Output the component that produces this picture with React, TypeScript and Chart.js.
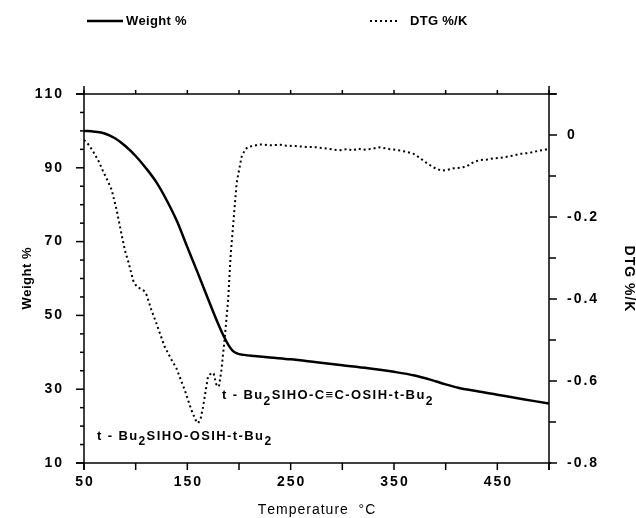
import React, { useEffect, useRef } from 'react';
import { Chart, registerables } from 'chart.js';

Chart.register(...registerables);

const FONT = "'Liberation Sans', Arial, Helvetica, sans-serif";

// ---- Data ----
const weightTemps = [50, 60, 70, 80, 90, 100, 110, 120, 130, 140, 150, 160, 170, 180, 185, 190, 194, 198, 205, 215, 230, 250, 275, 300, 325, 350, 370, 385, 400, 412, 425, 450, 475, 500];
const weightValues = [100, 99.8, 99.3, 98.0, 95.9, 93.2, 89.9, 86.1, 81.2, 75.5, 68.5, 61.6, 54.5, 47.6, 44.5, 41.9, 40.4, 39.7, 39.3, 39.0, 38.6, 38.1, 37.3, 36.5, 35.7, 34.7, 33.7, 32.6, 31.3, 30.4, 29.7, 28.5, 27.3, 26.1];

const dtgTemps = [50, 55, 59, 64, 68.7, 73, 76.8, 81.6, 86.5, 90, 93, 97.6, 101, 104, 108, 110.6, 115, 120, 128, 134, 139.4, 147.5, 154, 158, 160.5, 163, 165.2, 168, 170, 173.3, 175.5, 178, 180.6, 183, 186, 189.5, 192, 194.5, 197.7, 202.5, 206, 209, 215, 220, 230, 240, 246, 255, 265, 275, 285, 292, 298, 305, 310, 315, 320, 328, 336, 345, 356, 362, 369, 375, 382, 389, 396, 402, 408, 414, 420, 427, 433, 440, 446, 452, 459, 466, 472, 480, 491, 500];
const dtgValues = [-0.012, -0.025, -0.041, -0.063, -0.09, -0.112, -0.134, -0.183, -0.245, -0.285, -0.31, -0.355, -0.37, -0.374, -0.38, -0.39, -0.425, -0.459, -0.516, -0.545, -0.569, -0.622, -0.671, -0.695, -0.703, -0.69, -0.663, -0.62, -0.59, -0.58, -0.582, -0.608, -0.614, -0.573, -0.5, -0.402, -0.29, -0.215, -0.117, -0.053, -0.035, -0.029, -0.026, -0.023, -0.025, -0.024, -0.026, -0.027, -0.029, -0.03, -0.033, -0.036, -0.037, -0.034, -0.038, -0.033, -0.036, -0.034, -0.03, -0.034, -0.038, -0.041, -0.046, -0.056, -0.069, -0.08, -0.087, -0.085, -0.081, -0.08, -0.077, -0.066, -0.061, -0.06, -0.057, -0.056, -0.053, -0.05, -0.046, -0.044, -0.038, -0.034];

const xTickLabels = [50, 150, 250, 350, 450];
const weightTickLabels = [10, 30, 50, 70, 90, 110];
const dtgTickLabels = [0, -0.2, -0.4, -0.6, -0.8];
const legendLabels = ['Weight %', 'DTG %/K'];
const xTitle = 'Temperature  °C';
const yTitle = 'Weight %';
const y1Title = 'DTG %/K';

// annotation text pieces: [text, isSubscript]
const annotation1: [string, boolean][] = [['t - Bu', false], ['2', true], ['SIHO-OSIH-t-Bu', false], ['2', true]];
const annotation2: [string, boolean][] = [['t - Bu', false], ['2', true], ['SIHO-C≡C-OSIH-t-Bu', false], ['2', true]];
const annotationAnchors = [
  { x: 62.5, y: 17.3, parts: annotation1 },
  { x: 183.5, y: 28.2, parts: annotation2 },
];

function drawSpaced(ctx: CanvasRenderingContext2D, text: string, x: number, y: number, spacing: number, align: 'left' | 'right' | 'center') {
  const chars = Array.from(text);
  const widths = chars.map((c) => ctx.measureText(c).width);
  const total = widths.reduce((a, b) => a + b, 0) + spacing * (chars.length - 1);
  let cx = align === 'right' ? x - total : align === 'center' ? x - total / 2 : x;
  ctx.textAlign = 'left';
  chars.forEach((c, i) => {
    ctx.fillText(c, cx, y);
    cx += widths[i] + spacing;
  });
  return total;
}

const decorPlugin = {
  id: 'decor',
  afterDraw(chart: any) {
    const ctx: CanvasRenderingContext2D = chart.ctx;
    const { left: L, right: R, top: T, bottom: B } = chart.chartArea;
    const xs = chart.scales.x;
    const ys = chart.scales.y;
    const y2 = chart.scales.y1;
    ctx.save();
    ctx.strokeStyle = '#000';
    ctx.fillStyle = '#000';
    ctx.lineWidth = 1.5;
    const line = (x1: number, y1: number, x2: number, y2p: number) => {
      ctx.beginPath();
      ctx.moveTo(x1, y1);
      ctx.lineTo(x2, y2p);
      ctx.stroke();
    };
    // frame
    line(L, T - 8, L, B + 7);
    line(R, T - 8, R, B + 7);
    line(L - 8, T, R + 8, T);
    line(L - 8, B, R + 2, B);

    // x ticks
    xs.ticks.forEach((t: any) => {
      const px = xs.getPixelForValue(t.value);
      line(px, B, px, B + 7);
      line(px, T, px, T - 4);
    });
    // left ticks
    ys.ticks.forEach((t: any) => {
      const py = ys.getPixelForValue(t.value);
      const major = Math.round(t.value - 10) % 20 === 0;
      line(L - (major ? 8 : 4), py, L, py);
    });
    // right ticks
    y2.ticks.forEach((t: any) => {
      const py = y2.getPixelForValue(t.value);
      const major = Math.round(t.value * 10) % 2 === 0;
      line(R, py, R + (major ? 8 : 7), py);
    });

    // tick labels
    ctx.font = `bold 14px ${FONT}`;
    ctx.textBaseline = 'middle';
    xTickLabels.forEach((v) => {
      drawSpaced(ctx, String(v), xs.getPixelForValue(v), B + 19, 2, 'center');
    });
    weightTickLabels.forEach((v) => {
      drawSpaced(ctx, String(v), L - 22, ys.getPixelForValue(v), 2, 'right');
    });
    dtgTickLabels.forEach((v) => {
      const s = v === 0 ? '0' : v.toFixed(1);
      drawSpaced(ctx, s, R + 18, y2.getPixelForValue(v), 2, 'left');
    });

    // axis titles
    const midY = (T + B) / 2;
    ctx.font = `bold 13px ${FONT}`;
    ctx.save();
    ctx.translate(27, midY);
    ctx.rotate(-Math.PI / 2);
    drawSpaced(ctx, yTitle, 0, 0, 0.5, 'center');
    ctx.restore();

    ctx.save();
    ctx.font = `bold 14px ${FONT}`;
    ctx.translate(629, midY);
    ctx.rotate(Math.PI / 2);
    drawSpaced(ctx, y1Title, 0, 0, 1, 'center');
    ctx.restore();

    ctx.font = `14px ${FONT}`;
    drawSpaced(ctx, xTitle, (L + R) / 2, 510, 1, 'center');

    // legend
    const ds = chart.data.datasets;
    const legY = 21;
    ctx.lineWidth = ds[0].borderWidth;
    ctx.setLineDash([]);
    line(87, legY, 123, legY);
    ctx.lineWidth = ds[1].borderWidth;
    ctx.setLineDash(ds[1].borderDash);
    line(370, legY, 397, legY);
    ctx.setLineDash([]);
    ctx.font = `bold 13px ${FONT}`;
    drawSpaced(ctx, ds[0].label, 126, legY, 0.3, 'left');
    drawSpaced(ctx, ds[1].label, 410, legY, 0.3, 'left');

    // annotations
    annotationAnchors.forEach((a) => {
      let px = xs.getPixelForValue(a.x);
      const py = ys.getPixelForValue(a.y);
      a.parts.forEach(([txt, sub]) => {
        ctx.font = sub ? `bold 12px ${FONT}` : `bold 13px ${FONT}`;
        const w = drawSpaced(ctx, txt, px, py + (sub ? 6 : 0), 1.4, 'left');
        px += w + 1.4;
      });
    });

    ctx.restore();
  },
};

export default function App() {
  const ref = useRef<HTMLCanvasElement>(null);
  useEffect(() => {
    if (!ref.current) return;
    const chart = new Chart(ref.current, {
      type: 'line',
      data: {
        datasets: [
          {
            label: legendLabels[0],
            data: weightTemps.map((t, i) => ({ x: t, y: weightValues[i] })),
            yAxisID: 'y',
            borderColor: '#000',
            borderWidth: 2.5,
            pointRadius: 0,
            cubicInterpolationMode: 'monotone',
            fill: false,
          },
          {
            label: legendLabels[1],
            data: dtgTemps.map((t, i) => ({ x: t, y: dtgValues[i] })),
            yAxisID: 'y1',
            borderColor: '#000',
            borderWidth: 2,
            borderDash: [2, 3],
            pointRadius: 0,
            tension: 0,
            fill: false,
          },
        ],
      } as any,
      options: {
        animation: false,
        responsive: false,
        layout: { padding: { top: 94, left: 0, right: 0, bottom: 0 } },
        plugins: { legend: { display: false }, tooltip: { enabled: false } },
        scales: {
          x: {
            type: 'linear',
            position: 'bottom',
            min: 50,
            max: 500,
            ticks: { stepSize: 50, display: false },
            grid: { display: false, drawTicks: false },
            border: { display: false },
            afterFit: (s: any) => { s.height = 55; },
          },
          y: {
            type: 'linear',
            position: 'left',
            min: 10,
            max: 110,
            ticks: { stepSize: 5, display: false },
            grid: { display: false, drawTicks: false },
            border: { display: false },
            afterFit: (s: any) => { s.width = 84; },
          },
          y1: {
            type: 'linear',
            position: 'right',
            min: -0.8,
            max: 0.1,
            ticks: { stepSize: 0.1, display: false },
            grid: { display: false, drawTicks: false },
            border: { display: false },
            afterFit: (s: any) => { s.width = 87; },
          },
        },
      } as any,
      plugins: [decorPlugin],
    });
    return () => chart.destroy();
  }, []);
  return (
    <div style={{ position: 'fixed', left: 0, top: 0, width: 636, height: 518, background: '#fff' }}>
      <canvas ref={ref} width={636} height={518} style={{ display: 'block' }} />
    </div>
  );
}
